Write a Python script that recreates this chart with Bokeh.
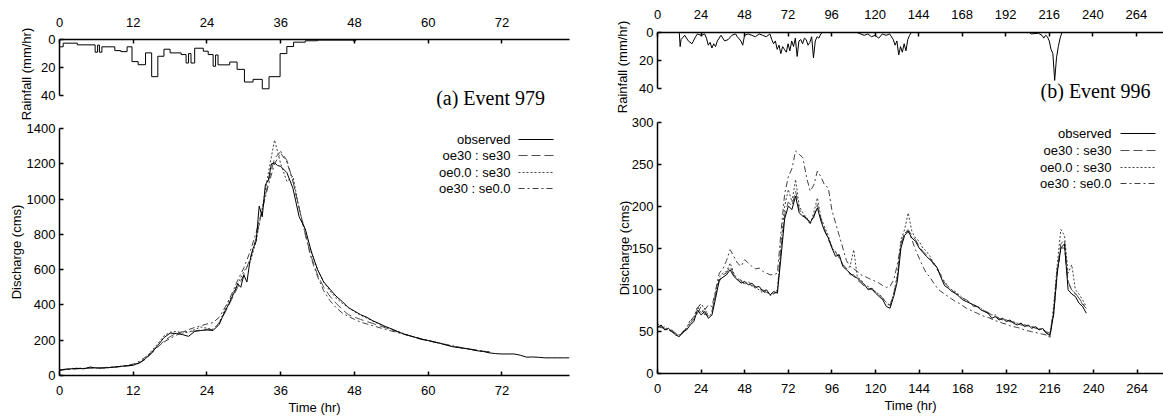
from bokeh.plotting import figure
from bokeh.layouts import row, column
from bokeh.models import Range1d, FixedTicker, Label
from bokeh.core.properties import value
from bokeh.embed import file_html
from bokeh.resources import INLINE

# ---------------- data ----------------
series_labels = ["observed", "oe30 : se30", "oe0.0 : se30", "oe30 : se0.0"]

# Event 979 rainfall (mm/hr), step starts (hr)
rain_a_t = [0, 0.6, 2.9, 5.8, 6.2, 6.5, 6.9, 9, 10, 11,
            11.8, 12.8, 14, 15, 16, 17, 18, 19.8, 20.6, 21,
            21.4, 22, 23.4, 24.2, 25, 25.4, 25.8, 27.7, 28.9, 30.1,
            31.5, 33, 34.1, 35.9, 37, 38.1, 40, 42, 47.8, 48.2, 83]
rain_a_v = [5.2, 2.6, 3.8, 9, 4, 9, 5.2, 7.9, 8.6, 5.2,
            15.7, 17.9, 9.5, 26.4, 11.9, 6.9, 9.5, 10.7, 16.7, 10,
            16.7, 6.2, 8.3, 10.7, 19, 11, 18, 16, 21.2, 30.2,
            28.3, 35, 26.4, 10, 5, 1.9, 0.9, 0.4, 1, 0, 0]

# Event 979 discharge
obs_a_t = [0, 1, 2, 3, 4, 5, 6, 7, 8, 9,
           10, 11, 12, 13, 14, 15, 16, 17, 18, 19,
           20, 21, 22, 23, 24, 25, 26, 27,
           27.5, 28, 28.5, 29, 29.5, 30, 30.5, 31, 31.5, 32,
           32.5, 33, 33.5, 34, 34.5, 35, 35.5,
           36, 37, 38, 39, 40, 41, 42, 43, 44, 45,
           46, 47, 48, 49, 50, 51, 52, 53, 54, 55,
           56, 57, 58, 59, 60, 61, 62, 63, 64, 65,
           66, 67, 68, 69, 70, 71, 72, 73, 74, 75,
           76, 77, 78, 79, 80, 81, 82, 83]
obs_a_q = [30, 35, 38, 40, 38, 48, 42, 42, 45, 48,
           52, 55, 58, 72, 95, 130, 170, 215, 240, 238,
           232, 222, 250, 255, 258, 255, 290, 370,
           400, 440, 475, 520, 500, 570, 530, 650, 720, 760,
           960, 900, 1080, 1110, 1200, 1205, 1190,
           1185, 1150, 1060, 900, 830, 700, 600, 530, 490, 450,
           420, 385, 365, 345, 330, 310, 295, 278, 265, 250,
           235, 226, 215, 205, 198, 190, 182, 172, 163, 158,
           153, 148, 140, 136, 128, 124, 122, 122, 122, 115,
           104, 105, 103, 100, 100, 100, 100, 100]
sim_a_t = [0, 1, 2, 3, 4, 5, 6, 7, 8, 9,
           10, 11, 12, 13, 14, 15, 16, 17, 18, 19,
           20, 21, 22, 23, 24, 25, 26, 27, 28, 29,
           30, 31, 32, 33, 34, 35, 36, 37, 38, 39,
           40, 41, 42, 43, 44, 45, 46, 47, 48, 49,
           50, 51, 52, 53, 54, 55, 56, 57, 58, 59,
           60, 61, 62, 63, 64, 65, 66, 67, 68, 69,
           70]
oe30_se30_a = [32, 36, 38, 40, 40, 42, 42, 44, 46, 48,
               50, 54, 58, 70, 92, 125, 160, 195, 220, 240,
               248, 250, 252, 258, 262, 260, 300, 360, 430, 500,
               570, 660, 780, 940, 1100, 1230, 1270, 1220, 1100, 950,
               800, 670, 570, 500, 450, 410, 375, 345, 330, 318,
               306, 295, 283, 271, 259, 247, 235, 224, 213, 204,
               197, 189, 181, 173, 165, 159, 153, 147, 141, 137,
               133]
oe00_se30_a = [30, 34, 40, 42, 40, 46, 44, 42, 44, 48,
               52, 56, 60, 75, 100, 140, 180, 225, 245, 250,
               240, 245, 260, 275, 268, 262, 300, 380, 450, 520,
               590, 640, 760, 950, 1150, 1335, 1200, 1100, 1130, 940,
               820, 700, 600, 530, 480, 440, 410, 385, 362, 342,
               325, 308, 292, 276, 262, 250, 238, 226, 216, 206,
               198, 190, 182, 174, 166, 160, 154, 148, 142, 138,
               132]
oe30_se00_a = [30, 34, 36, 38, 40, 42, 44, 45, 46, 48,
               52, 58, 65, 80, 105, 135, 165, 190, 210, 228,
               245, 260, 272, 282, 292, 300, 330, 390, 460, 540,
               610, 700, 810, 940, 1080, 1200, 1260, 1210, 1100, 950,
               800, 660, 560, 480, 425, 385, 355, 335, 318, 303,
               292, 282, 272, 262, 252, 244, 234, 225, 216, 207,
               199, 191, 183, 175, 168, 161, 155, 149, 143, 138,
               133]

# Event 996 rainfall (mm/hr)
rain_b_t = [0, 12, 12.5, 13, 15, 17, 19, 21, 22, 24,
            26, 27, 28, 29, 30, 31, 32, 33, 35, 37,
            39, 41, 43, 44, 46, 47, 48, 50, 52, 54,
            56, 58, 60, 62, 63, 64, 65, 66, 67, 68,
            69, 70, 71, 72, 73, 74, 75, 76, 77, 78,
            79, 80, 81, 82, 83, 84, 85, 86, 87, 88,
            89, 90, 91, 110, 112, 114, 116, 118, 120, 122,
            124, 126, 128, 130, 131, 132, 133, 134, 135, 136,
            137, 138, 139, 140, 205, 206, 210, 212, 213, 214,
            215, 216, 217, 218, 219, 220, 221, 222, 223, 240]
rain_b_v = [0, 0, 10, 5, 2, 6, 8, 3, 1, 2,
            1, 4, 9, 7, 11, 8, 10, 6, 2, 6,
            5, 2, 1, 3, 6, 9, 2, 1, 2, 3,
            1, 2, 3, 1, 5, 8, 6, 12, 9, 15,
            10, 12, 14, 8, 13, 6, 10, 4, 17, 6,
            5, 8, 4, 5, 9, 7, 3, 18, 6, 3,
            4, 1, 0, 0, 1, 2, 1, 3, 2, 4,
            1, 2, 1, 5, 9, 6, 16, 10, 14, 8,
            13, 5, 2, 0, 0, 1, 0.5, 2, 4, 2,
            3, 6, 12, 15, 34, 18, 10, 4, 0, 0]

# Event 996 discharge, every 2 hr from 0 to 236
time_b = [0, 2, 4, 6, 8, 10, 12, 14, 16, 18,
          20, 22, 24, 26, 28, 30, 32, 34, 36, 38,
          40, 42, 44, 46, 48, 50, 52, 54, 56, 58,
          60, 62, 64, 66, 68, 70, 72, 74, 76, 78,
          80, 82, 84, 86, 88, 90, 92, 94, 96, 98,
          100, 102, 104, 106, 108, 110, 112, 114, 116, 118,
          120, 122, 124, 126, 128, 130, 132, 134, 136, 138,
          140, 142, 144, 146, 148, 150, 152, 154, 156, 158,
          160, 162, 164, 166, 168, 170, 172, 174, 176, 178,
          180, 182, 184, 186, 188, 190, 192, 194, 196, 198,
          200, 202, 204, 206, 208, 210, 212, 214, 216, 218,
          220, 222, 224, 226, 228, 230, 232, 234, 236]
obs_b = [55, 58, 52, 54, 50, 46, 44, 50, 52, 58,
         62, 76, 70, 74, 66, 70, 90, 112, 115, 118,
         124, 116, 112, 108, 110, 106, 108, 103, 104, 98,
         100, 94, 98, 96, 140, 185, 200, 196, 212, 192,
         188, 186, 180, 188, 198, 182, 170, 162, 150, 140,
         142, 128, 124, 120, 116, 114, 110, 106, 100, 102,
         96, 92, 88, 80, 78, 92, 110, 150, 165, 170,
         162, 158, 150, 145, 140, 136, 132, 126, 115, 105,
         102, 98, 96, 92, 88, 86, 84, 82, 80, 76,
         74, 72, 66, 68, 64, 66, 62, 64, 60, 58,
         60, 56, 58, 54, 56, 52, 54, 48, 46, 70,
         120, 150, 155, 100, 95, 92, 84, 80, 72]
oe30_se30_b = [57, 55, 54, 51, 52, 48, 46, 48, 55, 60,
               65, 72, 80, 70, 72, 75, 95, 110, 118, 120,
               128, 118, 114, 110, 108, 108, 105, 104, 100, 100,
               97, 96, 95, 98, 150, 190, 205, 200, 218, 196,
               190, 184, 182, 186, 202, 185, 172, 160, 152, 145,
               138, 130, 126, 118, 118, 112, 108, 104, 102, 100,
               98, 94, 90, 84, 82, 95, 115, 155, 168, 172,
               165, 160, 152, 146, 142, 138, 130, 124, 118, 108,
               104, 100, 95, 94, 90, 88, 85, 80, 80, 78,
               75, 73, 70, 68, 66, 64, 64, 62, 61, 60,
               58, 58, 56, 56, 54, 53, 52, 50, 48, 75,
               125, 155, 160, 110, 100, 96, 90, 82, 78]
oe00_se30_b = [60, 54, 56, 52, 50, 47, 45, 50, 54, 64,
               66, 80, 72, 78, 68, 72, 98, 115, 120, 122,
               132, 120, 112, 112, 106, 110, 104, 102, 100, 96,
               98, 93, 96, 100, 155, 200, 220, 205, 232, 200,
               192, 186, 178, 192, 210, 186, 175, 165, 150, 146,
               140, 130, 125, 128, 148, 115, 112, 106, 104, 100,
               97, 95, 90, 85, 80, 96, 118, 160, 172, 192,
               170, 162, 158, 150, 146, 140, 132, 126, 116, 110,
               104, 100, 98, 94, 90, 88, 84, 82, 80, 78,
               74, 72, 70, 70, 66, 65, 64, 62, 62, 60,
               60, 58, 57, 56, 55, 54, 52, 50, 42, 80,
               130, 172, 165, 120, 130, 100, 95, 88, 80]
oe30_se00_b = [55, 56, 53, 52, 50, 48, 46, 50, 54, 62,
               68, 78, 84, 76, 82, 80, 100, 120, 125, 135,
               148, 140, 132, 128, 136, 132, 128, 125, 126, 122,
               120, 118, 118, 120, 170, 215, 235, 245, 266, 262,
               258, 235, 218, 225, 242, 235, 225, 222, 195, 180,
               165, 150, 135, 128, 125, 122, 118, 116, 114, 112,
               110, 108, 105, 103, 104, 112, 130, 155, 168, 170,
               160, 148, 138, 128, 120, 115, 108, 102, 98, 95,
               92, 89, 86, 84, 81, 78, 76, 74, 72, 70,
               68, 67, 65, 63, 62, 60, 59, 57, 56, 55,
               54, 52, 51, 50, 49, 48, 47, 46, 45, 70,
               120, 150, 150, 108, 100, 95, 90, 84, 78]

ticks_a = [0, 12, 24, 36, 48, 60, 72]
ticks_b = [0, 24, 48, 72, 96, 120, 144, 168, 192, 216, 240, 264]
rain_ticks = [0, 20, 40]
q_ticks_a = [0, 200, 400, 600, 800, 1000, 1200, 1400]
q_ticks_b = [0, 50, 100, 150, 200, 250, 300]

# ---------------- styling ----------------
FONT = "Liberation Sans"
SERIF = "Liberation Serif"
FS = "13px"
STYLES = [dict(color="black", line_width=1.0, line_dash="solid"),
          dict(color="#505050", line_width=1.0, line_dash="9 4"),
          dict(color="#404040", line_width=1.0, line_dash="2 2"),
          dict(color="#404040", line_width=1.0, line_dash="6 3 2 3")]


def make_fig(width, height, left, right, top, bottom, xr, yr, x_above=False):
    p = figure(width=width, height=height,
               x_range=Range1d(*xr), y_range=Range1d(*yr),
               output_backend="svg", toolbar_location=None,
               x_axis_location="above" if x_above else "below",
               min_border_left=left, min_border_right=right,
               min_border_top=top, min_border_bottom=bottom)
    p.outline_line_color = None
    p.xgrid.visible = False
    p.ygrid.visible = False
    p.background_fill_color = "white"
    p.border_fill_color = "white"
    return p


def style_axis(ax, ticks, label, label_standoff, tick_standoff):
    ax.ticker = FixedTicker(ticks=ticks)
    ax.axis_label = label
    ax.axis_label_standoff = label_standoff
    ax.major_label_standoff = tick_standoff
    ax.axis_line_color = "black"
    ax.axis_line_width = 1.5
    ax.major_tick_in = 4
    ax.major_tick_out = 0
    ax.major_tick_line_color = "black"
    ax.major_tick_line_width = 1.5
    ax.minor_tick_line_color = None
    ax.major_label_text_font = FONT
    ax.major_label_text_font_size = FS
    ax.major_label_text_color = "black"
    ax.axis_label_text_font = FONT
    ax.axis_label_text_font_size = FS
    ax.axis_label_text_font_style = "normal"
    ax.axis_label_text_color = "black"


def px_to_data(px, py, frame, xr, yr):
    # frame = (left, top, width, height) in page pixels
    fl, ft, fw, fh = frame
    x = xr[0] + (px - fl) / fw * (xr[1] - xr[0])
    y = yr[1] + (py - ft) / fh * (yr[0] - yr[1])
    return x, y


def add_legend(p, frame, xr, yr, text_right, lx0, lx1, rows):
    for i, (lab, st) in enumerate(zip(series_labels, STYLES)):
        tx, ty = px_to_data(text_right, rows[i], frame, xr, yr)
        x0, _ = px_to_data(lx0, rows[i], frame, xr, yr)
        x1, _ = px_to_data(lx1, rows[i], frame, xr, yr)
        p.text(x=[tx], y=[ty], text=[lab], text_font=value(FONT),
               text_font_size=value(FS), text_align="right",
               text_baseline="middle", text_color="black")
        p.line([x0, x1], [ty, ty], **st)


# ---------------- panel (a) ----------------
XR_A = (0, 83)
YR_RA = (49, 0)          # rainfall axis shows 0..40, extra room for caption
rain_a = make_fig(600, 121, 57, 23, 39, 13, XR_A, YR_RA, x_above=True)
rain_a.step(rain_a_t, rain_a_v, mode="after", color="black", line_width=1)
style_axis(rain_a.xaxis[0], ticks_a, "", 0, 13)
style_axis(rain_a.yaxis[0], rain_ticks, "Rainfall (mm/hr)", 4, 4)
rain_a.yaxis[0].bounds = (0, 40)
ex, ey = px_to_data(552, 97, (57, 39, 520, 69), XR_A, YR_RA)
rain_a.add_layout(Label(x=ex, y=ey, text="(a) Event 979", text_font=SERIF,
                        text_font_size="20px", text_align="right",
                        text_baseline="middle", text_color="black"))

YR_QA = (0, 1400)
q_a = make_fig(600, 296, 59, 31, 7, 42, XR_A, YR_QA)
q_a.line(sim_a_t, oe30_se00_a, **STYLES[3])
q_a.line(sim_a_t, oe00_se30_a, **STYLES[2])
q_a.line(sim_a_t, oe30_se30_a, **STYLES[1])
q_a.line(obs_a_t, obs_a_q, **STYLES[0])
style_axis(q_a.xaxis[0], ticks_a, "Time (hr)", 2, 10)
style_axis(q_a.yaxis[0], q_ticks_a, "Discharge (cms)", 0, 4)
add_legend(q_a, (59, 128, 510, 247), XR_A, YR_QA, 510, 518, 553, [139, 155, 172, 188])

# ---------------- panel (b) ----------------
XR_RB = (0, 279)
YR_RB = (49, 0)
rain_b = make_fig(563, 114, 55, 0, 32, 13, XR_RB, YR_RB, x_above=True)
rain_b.line(rain_b_t, rain_b_v, color="black", line_width=1)
style_axis(rain_b.xaxis[0], ticks_b, "", 0, 14)
style_axis(rain_b.yaxis[0], rain_ticks, "Rainfall (mm/hr)", 6, 4)
rain_b.yaxis[0].bounds = (0, 40)
ex, ey = px_to_data(1150, 90, (655, 32, 508, 69), XR_RB, YR_RB)
rain_b.add_layout(Label(x=ex, y=ey, text="(b) Event 996", text_font=SERIF,
                        text_font_size="20px", text_align="right",
                        text_baseline="middle", text_color="black"))

XR_QB = (0, 278.5)
YR_QB = (0, 300)
q_b = make_fig(563, 303, 57, 0, 8, 44, XR_QB, YR_QB)
q_b.line(time_b, oe30_se00_b, **STYLES[3])
q_b.line(time_b, oe00_se30_b, **STYLES[2])
q_b.line(time_b, oe30_se30_b, **STYLES[1])
q_b.line(time_b, obs_b, **STYLES[0])
style_axis(q_b.xaxis[0], ticks_b, "Time (hr)", 2, 10)
style_axis(q_b.yaxis[0], q_ticks_b, "Discharge (cms)", -3, 4)
add_legend(q_b, (657, 122, 506, 251), XR_QB, YR_QB, 1111, 1120, 1155, [133, 150, 167, 183])

layout = row(column(rain_a, q_a), column(rain_b, q_b))
open("out.html", "w").write(file_html(layout, INLINE))
